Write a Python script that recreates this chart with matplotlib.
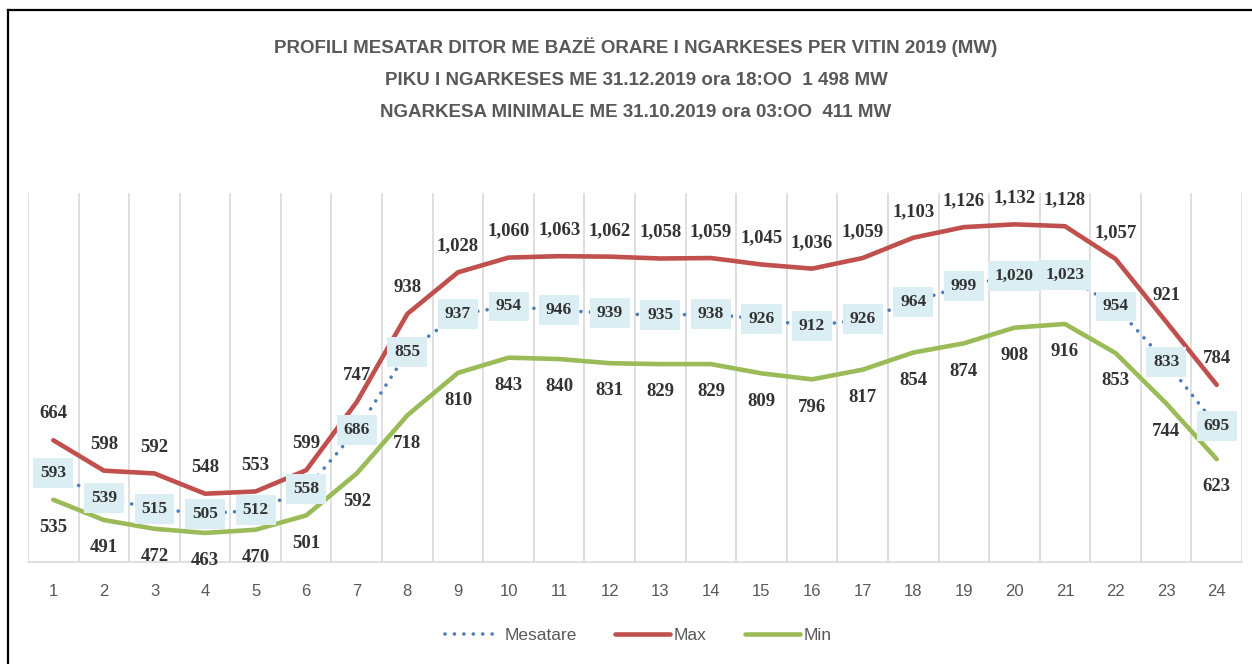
import numpy as np
import matplotlib.pyplot as plt
from matplotlib.lines import Line2D

plt.rcParams['font.family'] = ['Liberation Sans', 'DejaVu Sans']

hours = list(range(1, 25))
mesatare = [593, 539, 515, 505, 512, 558, 686, 855, 937, 954, 946, 939,
            935, 938, 926, 912, 926, 964, 999, 1020, 1023, 954, 833, 695]
maks = [664, 598, 592, 548, 553, 599, 747, 938, 1028, 1060, 1063, 1062,
        1058, 1059, 1045, 1036, 1059, 1103, 1126, 1132, 1128, 1057, 921, 784]
mini = [535, 491, 472, 463, 470, 501, 592, 718, 810, 843, 840, 831,
        829, 829, 809, 796, 817, 854, 874, 908, 916, 853, 744, 623]

title = ("PROFILI MESATAR DITOR ME BAZË ORARE I NGARKESES PER VITIN 2019 (MW)\n"
         "PIKU I NGARKESES ME 31.12.2019 ora 18:OO  1 498 MW\n"
         "NGARKESA MINIMALE ME 31.10.2019 ora 03:OO  411 MW")

c_avg = '#4A7EBB'
c_max = '#C0504D'
c_min = '#9BBB59'
grey = '#595959'

fig = plt.figure(figsize=(12.52, 6.64), dpi=100)
ax = fig.add_axes([28/1252, 1-562/664, (1242-28)/1252, (562-193)/664])

ax.plot(hours, maks, color=c_max, lw=3.3, solid_capstyle='round', zorder=3)
ax.plot(hours, mini, color=c_min, lw=3.3, solid_capstyle='round', zorder=3)
ax.plot(hours, mesatare, color=c_avg, lw=2.6, linestyle=(0, (0.01, 2.6)),
        dash_capstyle='round', zorder=4)

lab = dict(ha='center', va='center', fontsize=13.5, fontweight='bold',
           color='#333333', family='Liberation Serif')
for h, v in zip(hours, maks):
    ax.annotate(f'{v:,}', (h, v), xytext=(0, 19), textcoords='offset points', **lab)
for h, v in zip(hours, mini):
    ax.annotate(f'{v:,}', (h, v), xytext=(0, -20), textcoords='offset points', **lab)
for h, v in zip(hours, mesatare):
    ax.text(h, v, f'{v:,}', ha='center', va='center', fontsize=12.5, fontweight='bold',
            color='#333333', family='Liberation Serif', zorder=5,
            bbox=dict(boxstyle='square,pad=0.4', fc='#DAEEF3', ec='none'))

ax.set_xlim(0.5, 24.5)
ax.set_ylim(400, 1200)
ax.set_yticks([])
ax.set_xticks(hours)
ax.set_xticklabels([str(h) for h in hours], fontsize=12, color=grey)
ax.tick_params(axis='x', length=0, pad=16)
for x in np.arange(0.5, 25, 1):
    ax.axvline(x, color='#D9D9D9', lw=1.2, zorder=1)
for s in ['top', 'right', 'left']:
    ax.spines[s].set_visible(False)
ax.spines['bottom'].set_color('#D9D9D9')
ax.spines['bottom'].set_linewidth(1.2)

fig.text(0.508, 1-79/664, title, ha='center', va='center', fontsize=13.5,
         fontweight='bold', color=grey, linespacing=2.15)

handles = [Line2D([], [], color=c_avg, lw=2.6, linestyle=(0, (0.01, 2.6)), dash_capstyle='round'),
           Line2D([], [], color=c_max, lw=3.3, solid_capstyle='round'),
           Line2D([], [], color=c_min, lw=3.3, solid_capstyle='round')]
fig.legend(handles, ['Mesatare', 'Max', 'Min'], loc='center', bbox_to_anchor=(0.51, 1-635/664),
           ncol=3, frameon=False, fontsize=12.5, labelcolor=grey, handlelength=3.2,
           handletextpad=0.2, columnspacing=2.2)

# outer frame (left and top edges)
fig.add_artist(Line2D([8/1252, 8/1252], [0, 1-10/664], color='black', lw=1.6, transform=fig.transFigure))
fig.add_artist(Line2D([8/1252, 1], [1-10/664, 1-10/664], color='black', lw=1.6, transform=fig.transFigure))

fig.savefig('out.png', dpi=100)
